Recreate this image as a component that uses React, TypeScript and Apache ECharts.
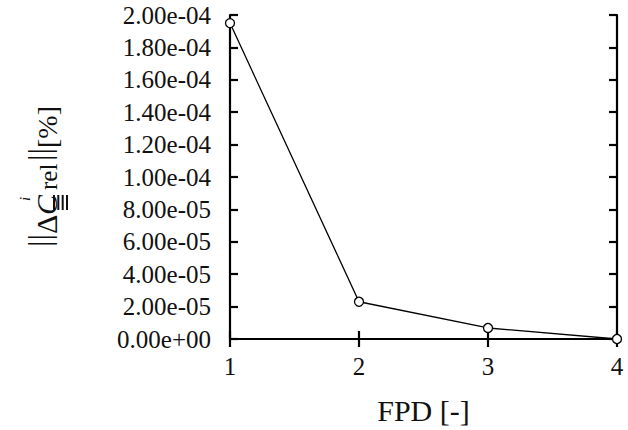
import React, { useEffect, useRef } from "react";
import * as echarts from "echarts";

const xValues = [1, 2, 3, 4];
const yValues = [1.95e-4, 2.3e-5, 6.8e-6, 0];
const xTicks = [1, 2, 3, 4];
const yMin = 0;
const yMax = 2e-4;
const yTickStep = 2e-5;
const xLabel = "FPD [-]";

const FONT = "Liberation Serif, Times New Roman, serif";
const INK = "#111";

type Piece = { text: string; size: number; italic?: boolean; baseX: number; startY: number };

// y-axis title pieces (rotated, reading bottom to top)
const yTitle: Piece[] = [
  { text: "||", size: 32, baseX: 50, startY: 247 },
  { text: "Δ", size: 30, baseX: 57, startY: 234 },
  { text: "C", size: 30, italic: true, baseX: 57, startY: 215 },
  { text: "i", size: 15, italic: true, baseX: 30, startY: 201 },
  { text: "rel", size: 25, baseX: 57, startY: 190 },
  { text: "||", size: 32, baseX: 50, startY: 161 },
  { text: "[%]", size: 28, baseX: 57, startY: 148 },
];

export default function App() {
  const ref = useRef<HTMLDivElement>(null);
  useEffect(() => {
    if (!ref.current) return;
    const chart = echarts.init(ref.current, undefined, { renderer: "svg" });
    const axisLine = { show: true, lineStyle: { color: "#000", width: 2.2 } };
    const tick = { show: true, inside: true, length: 8, lineStyle: { color: "#000", width: 2.2 } };
    const bars = [54, 58.3, 62.7, 67].map((bx) => ({
      type: "rect",
      shape: { x: bx - 1, y: 195, width: 2, height: 15 },
      style: { fill: INK },
      silent: true,
    }));
    const titleTexts = yTitle.map((p) => ({
      type: "text",
      x: p.baseX - 0.34 * p.size,
      y: p.startY,
      rotation: Math.PI / 2,
      silent: true,
      style: {
        text: p.text,
        align: "left",
        verticalAlign: "middle",
        fill: INK,
        fontFamily: FONT,
        fontSize: p.size,
        fontStyle: p.italic ? "italic" : "normal",
      },
    }));
    chart.setOption({
      animation: false,
      backgroundColor: "#fff",
      grid: { left: 230, right: 11, top: 15, bottom: 90 },
      xAxis: [
        {
          type: "value",
          min: xTicks[0],
          max: xTicks[xTicks.length - 1],
          interval: 1,
          axisLine,
          axisTick: tick,
          splitLine: { show: false },
          axisLabel: { color: INK, fontFamily: FONT, fontSize: 25, margin: 15 },
          name: xLabel,
          nameLocation: "middle",
          nameGap: 56,
          nameTextStyle: { color: INK, fontFamily: FONT, fontSize: 30 },
        },
        {
          type: "value",
          position: "top",
          min: xTicks[0],
          max: xTicks[xTicks.length - 1],
          interval: 1,
          axisLine,
          axisTick: tick,
          axisLabel: { show: false },
          splitLine: { show: false },
        },
      ],
      yAxis: [
        {
          type: "value",
          min: yMin,
          max: yMax,
          interval: yTickStep,
          axisLine,
          axisTick: tick,
          splitLine: { show: false },
          axisLabel: {
            color: INK,
            fontFamily: FONT,
            fontSize: 25,
            margin: 19,
            formatter: (v: number) => {
              const s = v.toExponential(2);
              const [m, e] = s.split("e");
              const sign = e[0] === "-" ? "-" : "+";
              const num = e.replace(/[+-]/, "").padStart(2, "0");
              return `${m}e${sign}${num}`;
            },
          },
        },
        {
          type: "value",
          position: "right",
          min: yMin,
          max: yMax,
          interval: yTickStep,
          axisLine,
          axisTick: tick,
          axisLabel: { show: false },
          splitLine: { show: false },
        },
      ],
      graphic: [...titleTexts, ...bars],
      series: [
        {
          type: "line",
          xAxisIndex: 0,
          yAxisIndex: 0,
          data: xValues.map((x, i) => [x, yValues[i]]),
          symbol: "circle",
          symbolSize: 9,
          showSymbol: true,
          lineStyle: { color: "#000", width: 1.3 },
          itemStyle: { color: "#fff", borderColor: "#000", borderWidth: 1.3 },
          clip: false,
          z: 5,
        },
      ],
    });
    return () => chart.dispose();
  }, []);
  return <div ref={ref} style={{ width: 628, height: 430, position: "absolute", left: 0, top: 0 }} />;
}
